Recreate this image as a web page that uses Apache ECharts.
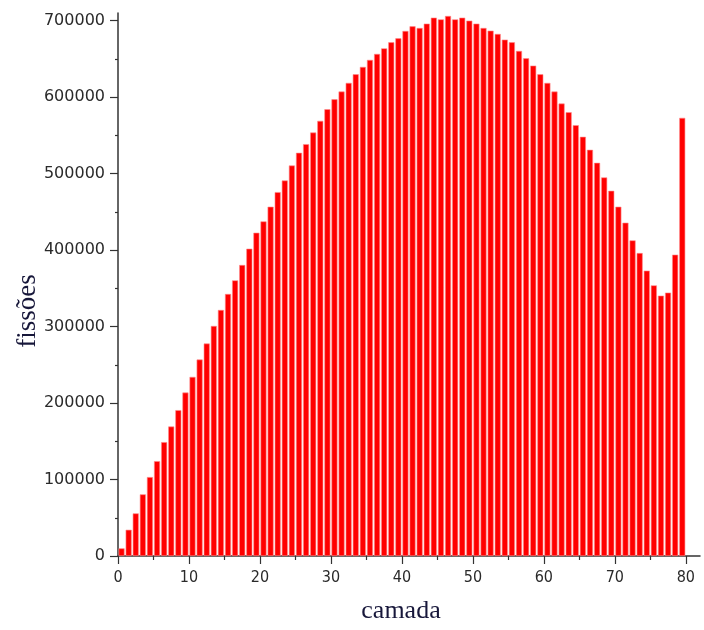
<!DOCTYPE html>
<html>
<head>
<meta charset="utf-8">
<title>Fissões por camada</title>
<script src="https://cdn.jsdelivr.net/npm/echarts@6/dist/echarts.min.js"></script>
<style>
  html, body { margin: 0; padding: 0; background: #ffffff; }
  #chart { width: 704px; height: 630px; }
</style>
</head>
<body>
<div id="chart"></div>
<script>
// Layer numbers (camada) 1..80
const layers = [];
for (let k = 1; k <= 80; k++) layers.push(k);

// Fission count per layer
const fissions = [
  10000, 34300, 55700, 80600, 103200, 124000, 148900, 169300, 190700, 213700,
  234200, 256900, 277800, 300800, 321700, 342600, 360400, 380500, 401800, 422700,
  437500, 456700, 475800, 491000, 510600, 527200, 538500, 553700, 569000, 584200,
  597200, 607300, 618600, 629900, 639500, 648700, 656500, 663800, 671700, 676900,
  686500, 692600, 690400, 696100, 703900, 701700, 706100, 701700, 703900, 700000,
  696100, 690400, 686900, 682600, 675200, 671700, 660400, 650800, 641200, 629900,
  618600, 607300, 591600, 580300, 563300, 548100, 531100, 514100, 495000, 477500,
  456700, 435800, 412700, 396100, 373100, 353900, 340400, 344400, 394000, 572900
];

// Tick values
const xMajorTicks = [0, 10, 20, 30, 40, 50, 60, 70, 80];
const xMinorTicks = [5, 15, 25, 35, 45, 55, 65, 75];
const yMajorTicks = [0, 100000, 200000, 300000, 400000, 500000, 600000, 700000];
const yMinorTicks = [50000, 150000, 250000, 350000, 450000, 550000, 650000];

// Each layer's bar occupies the unit interval ending at its layer number
const barData = layers.map((k, i) => [k - 0.5, fissions[i]]);

const axisColor = '#333333';
const X_MAX = 82, Y_MAX = 710000;

const chart = echarts.init(document.getElementById('chart'), null, { renderer: 'canvas' });

chart.setOption({
  animation: false,
  backgroundColor: '#ffffff',
  grid: { left: 118, right: 4, top: 13, bottom: 74, containLabel: false },
  xAxis: [
    {
      type: 'value', min: 0, max: X_MAX, interval: 10,
      splitLine: { show: false },
      axisLine: { show: true, onZero: false, lineStyle: { color: axisColor, width: 1.5 } },
      axisTick: { show: true, length: 8, customValues: xMajorTicks, lineStyle: { color: axisColor, width: 1.2 } },
      axisLabel: {
        customValues: xMajorTicks, margin: 14, color: '#2a2a2a',
        fontFamily: '"Liberation Sans Narrow", "DejaVu Sans Condensed", sans-serif', fontSize: 16,
        formatter: v => String(v)
      },
      name: 'camada', nameLocation: 'middle', nameGap: 42,
      nameTextStyle: {
        fontFamily: '"Liberation Serif", "DejaVu Serif", serif', fontSize: 26,
        color: '#17173a', padding: [0, 16, 0, 0]
      }
    },
    {
      type: 'value', min: 0, max: X_MAX, position: 'bottom',
      splitLine: { show: false },
      axisLine: { show: false },
      axisTick: { show: true, length: 4, customValues: xMinorTicks, lineStyle: { color: axisColor, width: 1.2 } },
      axisLabel: { show: false }
    }
  ],
  yAxis: [
    {
      type: 'value', min: 0, max: Y_MAX, interval: 100000,
      splitLine: { show: false },
      axisLine: { show: true, onZero: false, lineStyle: { color: axisColor, width: 1.5 } },
      axisTick: { show: true, length: 8, customValues: yMajorTicks, lineStyle: { color: axisColor, width: 1.2 } },
      axisLabel: {
        customValues: yMajorTicks, margin: 13, color: '#2a2a2a',
        fontFamily: '"DejaVu Sans", sans-serif', fontSize: 16,
        formatter: v => String(v)
      }
    },
    {
      type: 'value', min: 0, max: Y_MAX, position: 'left',
      splitLine: { show: false },
      axisLine: { show: false },
      axisTick: { show: true, length: 3, customValues: yMinorTicks, lineStyle: { color: axisColor, width: 1.2 } },
      axisLabel: { show: false }
    }
  ],
  graphic: [
    {
      type: 'text', x: 28, y: 311, rotation: Math.PI / 2,
      style: {
        text: 'fissões', fill: '#17173a', align: 'center', verticalAlign: 'middle',
        font: '27px "Liberation Serif", "DejaVu Serif", serif'
      }
    }
  ],
  series: [
    {
      type: 'bar', xAxisIndex: 0, yAxisIndex: 0,
      data: barData,
      barWidth: 6,
      clip: false,
      itemStyle: { color: '#ff0000', borderColor: '#ff8c8c', borderWidth: 0.6 }
    }
  ]
});
</script>
</body>
</html>
